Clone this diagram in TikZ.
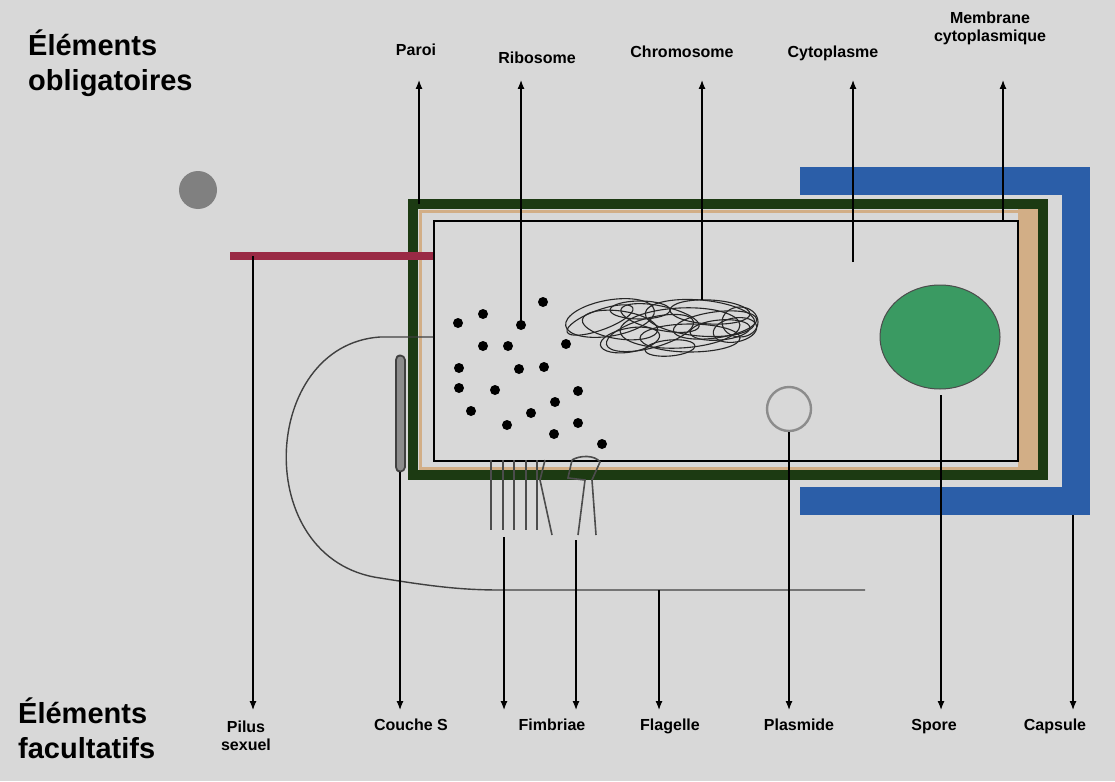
\documentclass[tikz,border=0pt]{standalone}
\usepackage{fontspec}
\setmainfont{Liberation Sans}
\usetikzlibrary{arrows.meta}
\definecolor{bg}{HTML}{D8D8D8}
\definecolor{wallc}{HTML}{1C3A12}
\definecolor{beige}{HTML}{D2AE86}
\definecolor{capc}{HTML}{2B5EA8}
\definecolor{pilc}{HTML}{9A2A45}
\definecolor{sporec}{HTML}{3A9A62}
\tikzset{
 lab/.style={font=\bfseries\fontsize{16}{18}\selectfont, align=center, inner sep=1pt},
 big/.style={font=\bfseries\fontsize{29}{35}\selectfont, align=left, anchor=north west, inner sep=0pt},
 arr/.style={-{Latex[length=9pt,width=7pt]}, line width=1.2pt},
 rib/.style={circle, fill=black, inner sep=0pt, minimum size=10pt},
 fim/.style={line width=1.6pt, draw=black!70}
}
\begin{document}
\begin{tikzpicture}[x=1pt,y=-1pt]
\fill[bg] (0,0) rectangle (1115,781);
\useasboundingbox (0,0) rectangle (1115,781);
\node[big] (t1) at (28,30) {Éléments\\obligatoires};
\node[big] (t2) at (18,698) {Éléments\\facultatifs};
\fill[black!50] (198,190) circle (19);
% capsule
\draw[capc, line width=28pt] (800,181) -- (1076,181) -- (1076,501) -- (800,501);
% wall
\fill[bg] (413,204) rectangle (1043,475);
\fill[beige] (1018,209) rectangle (1038,470);
\draw[beige, line width=3pt] (420,211) rectangle (1036,468);
\draw[wallc, line width=10pt] (413,204) rectangle (1043,475);
\draw[black, line width=2pt] (434,221) rectangle (1018,461);
% pilus
\draw[pilc, line width=8pt] (230,256) -- (433,256);
% couche S
\draw[black!75, line width=11pt, line cap=round] (400,360) -- (400,467);
\draw[black!45, line width=7pt, line cap=round] (400,360) -- (400,467);
% flagelle
\draw[black!75, line width=1.4pt] (433,337) -- (380,337) .. controls (260,345) and (250,560) .. (380,578) .. controls (430,586) and (460,590) .. (500,590) -- (865,590);
% fimbriae
\foreach \x in {491,503,514,526,537} \draw[fim] (\x,460) -- (\x,530);
\draw[fim] (545,460) -- (540,480) -- (552,535);
\draw[fim] (572,460) .. controls (580,455) and (595,455) .. (600,462) -- (592,480) -- (596,535);
\draw[fim] (572,460) -- (568,478) -- (585,480) -- (578,535);
% ribosomes
\foreach \x/\y in {458/323, 483/314, 521/325, 543/302, 483/346, 508/346, 566/344, 459/368, 519/369, 544/367, 459/388, 495/390, 578/391, 471/411, 531/413, 555/402, 507/425, 554/434, 578/423, 602/444}
 \node[rib] at (\x,\y) {};
\coordinate (rib) at (521,325);
% chromosome
\begin{scope}[black!85, line width=1.1pt]
\foreach \cx/\cy/\rx/\ry/\r in {610/318/45/18/10, 620/325/38/14/-8, 650/333/45/15/15, 700/318/55/18/-5, 715/325/42/13/8, 690/338/50/14/0, 600/320/35/10/20, 740/322/18/15/0, 660/318/40/12/-12, 720/330/30/10/5, 640/310/30/9/0, 680/328/60/20/3, 630/340/30/12/10, 710/312/40/12/-3, 735/330/22/12/10, 670/348/25/8/5}
 \draw[rotate around={\r:(\cx,\cy)}] (\cx,\cy) ellipse ({\rx} and {\ry});
\end{scope}
\coordinate (chr) at (702,300);
% spore & plasmid
\draw[black!70, fill=sporec, line width=1pt] (940,337) ellipse (60 and 52);
\draw[black!45, line width=2.4pt] (789,409) circle (22);
\coordinate (spo) at (941,395);
\coordinate (pla) at (789,432);
\coordinate (cyt) at (853,262);
\coordinate (mem) at (1003,220);
\coordinate (par) at (419,204);
\coordinate (pil) at (253,256);
\coordinate (cou) at (400,472);
\coordinate (fi1) at (504,537);
\coordinate (fi2) at (576,540);
\coordinate (fla) at (659,590);
\coordinate (cap) at (1073,515);
% top labels
\node[lab, anchor=base] (lpar) at (416,56) {Paroi};
\node[lab, anchor=base] (lrib) at (537,64) {Ribosome};
\node[lab, anchor=base] (lchr) at (682,58) {Chromosome};
\node[lab, anchor=base] (lcyt) at (833,58) {Cytoplasme};
\node[lab, anchor=base] (lmem) at (990,42) {Membrane\\cytoplasmique};
\coordinate (apar) at (419,80); \coordinate (arib) at (521,80); \coordinate (achr) at (702,80);
\coordinate (acyt) at (853,80); \coordinate (amem) at (1003,80);
\draw[arr] (par) -- (apar);
\draw[arr] (rib) -- (arib);
\draw[arr] (chr) -- (achr);
\draw[arr] (cyt) -- (acyt);
\draw[arr] (mem) -- (amem);
% bottom labels
\node[lab, anchor=north] (lpil) at (246,720) {Pilus\\sexuel};
\node[lab, anchor=north] (lcou) at (411,718) {Couche S};
\node[lab, anchor=north] (lfim) at (552,718) {Fimbriae};
\node[lab, anchor=north] (lfla) at (670,718) {Flagelle};
\node[lab, anchor=north] (lpla) at (799,718) {Plasmide};
\node[lab, anchor=north] (lspo) at (934,718) {Spore};
\node[lab, anchor=north] (lcap) at (1055,718) {Capsule};
\foreach \a/\x in {pil/253,cou/400,fi1/504,fi2/576,fla/659,pla/789,spo/941,cap/1073}
 \draw[arr] (\a) -- (\x,710);
\end{tikzpicture}
\end{document}
